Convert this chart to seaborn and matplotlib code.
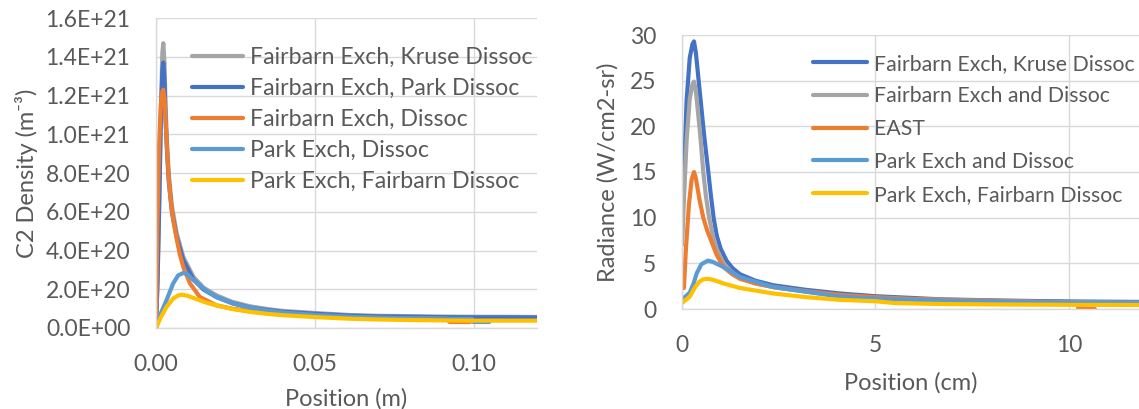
import numpy as np
import pandas as pd
import matplotlib
matplotlib.use("Agg")
import matplotlib.pyplot as plt
import matplotlib.ticker as mticker
import seaborn as sns

# ---------------- data: left panel (C2 density, m^-3 vs position, m) ----------------
left_labels = ["Fairbarn Exch, Kruse Dissoc", "Fairbarn Exch, Park Dissoc",
               "Fairbarn Exch, Dissoc", "Park Exch, Dissoc", "Park Exch, Fairbarn Dissoc"]
left_colors = ["#A5A5A5", "#4472C4", "#ED7D31", "#5B9BD5", "#FFC000"]

x_kruse = [0, 0.0005, 0.001, 0.0015, 0.002, 0.0023, 0.0027, 0.003, 0.0035, 0.004, 0.005, 0.0065,
           0.0086, 0.0118, 0.015, 0.019, 0.024, 0.0296, 0.035, 0.040, 0.0505, 0.061, 0.07, 0.08,
           0.09, 0.10, 0.11, 0.12]
y_kruse = [0, 2.5e20, 6.5e20, 1.1e21, 1.42e21, 1.47e21, 1.36e21, 1.15e21, 9.5e20, 8.0e20, 6.3e20,
           4.9e20, 3.67e20, 2.64e20, 2.08e20, 1.69e20, 1.35e20, 1.12e20, 9.8e19, 8.8e19, 7.7e19,
           6.7e19, 6.3e19, 6.1e19, 5.9e19, 5.8e19, 5.8e19, 5.7e19]

x_park = [0, 0.0005, 0.001, 0.0015, 0.002, 0.0023, 0.0027, 0.003, 0.0035, 0.004, 0.005, 0.0065,
          0.0086, 0.0118, 0.015, 0.019, 0.024, 0.0296, 0.035, 0.040, 0.0505, 0.061, 0.07, 0.08,
          0.09, 0.10, 0.11, 0.12]
y_park = [0, 2.5e20, 6.2e20, 1.05e21, 1.33e21, 1.37e21, 1.27e21, 1.08e21, 9.0e20, 7.6e20, 6.0e20,
          4.7e20, 3.5e20, 2.5e20, 1.98e20, 1.6e20, 1.28e20, 1.06e20, 9.3e19, 8.4e19, 7.3e19,
          6.4e19, 6.0e19, 5.8e19, 5.6e19, 5.5e19, 5.5e19, 5.4e19]

x_fdis = [0, 0.0004, 0.001, 0.0015, 0.002, 0.0023, 0.0027, 0.003, 0.0035, 0.004, 0.0045, 0.005,
          0.0055, 0.0065, 0.0075, 0.0086, 0.0107, 0.0138, 0.019, 0.024, 0.0296, 0.035, 0.040,
          0.0505, 0.061, 0.07, 0.08, 0.0915, 0.0925, 0.099]
y_fdis = [0, 5.0e20, 9.5e20, 1.15e21, 1.22e21, 1.23e21, 1.18e21, 1.08e21, 9.2e20, 7.8e20, 6.8e20,
          6.1e20, 5.5e20, 4.6e20, 3.8e20, 3.15e20, 2.3e20, 1.6e20, 1.17e20, 1.0e20, 8.8e19, 7.9e19,
          7.2e19, 6.3e19, 5.6e19, 5.2e19, 5.0e19, 4.8e19, 3.1e19, 3.1e19]

x_pexd = [0, 0.0015, 0.0033, 0.0054, 0.007, 0.0086, 0.010, 0.0118, 0.0138, 0.016, 0.019, 0.0243,
          0.0296, 0.035, 0.040, 0.0505, 0.061, 0.07, 0.08, 0.09, 0.0995, 0.100, 0.105]
y_pexd = [0, 7.5e19, 1.43e20, 2.3e20, 2.72e20, 2.84e20, 2.76e20, 2.47e20, 2.2e20, 1.9e20, 1.6e20,
          1.26e20, 1.05e20, 9.0e19, 8.0e19, 6.7e19, 5.8e19, 5.3e19, 5.0e19, 4.8e19, 4.7e19,
          3.1e19, 3.1e19]

x_pfd = [0, 0.0015, 0.0033, 0.0054, 0.007, 0.0081, 0.010, 0.0118, 0.0138, 0.016, 0.019, 0.024,
         0.0296, 0.035, 0.040, 0.0505, 0.061, 0.07, 0.08, 0.09, 0.10, 0.11, 0.12]
y_pfd = [0, 5.5e19, 1.08e20, 1.52e20, 1.68e20, 1.72e20, 1.66e20, 1.55e20, 1.43e20, 1.3e20, 1.17e20,
         9.8e19, 8.3e19, 7.3e19, 6.6e19, 5.6e19, 4.8e19, 4.4e19, 4.1e19, 3.9e19, 3.8e19, 3.8e19,
         3.8e19]

left_x = [x_kruse, x_park, x_fdis, x_pexd, x_pfd]
left_y = [y_kruse, y_park, y_fdis, y_pexd, y_pfd]
left_yticks = [0, 2e20, 4e20, 6e20, 8e20, 1e21, 1.2e21, 1.4e21, 1.6e21]
left_xticks = [0.0, 0.05, 0.10]

# ---------------- data: right panel (radiance, W/cm2-sr vs position, cm) ----------------
right_labels = ["Fairbarn Exch, Kruse Dissoc", "Fairbarn Exch and Dissoc", "EAST",
                "Park Exch and Dissoc", "Park Exch, Fairbarn Dissoc"]
right_colors = ["#4472C4", "#A5A5A5", "#ED7D31", "#5B9BD5", "#FFC000"]

xr_kruse = [0, 0.05, 0.12, 0.2, 0.27, 0.31, 0.36, 0.48, 0.57, 0.68, 0.75, 0.82, 0.9, 1.0, 1.15,
            1.3, 1.5, 1.9, 2.36, 3.2, 4.08, 5.0, 6.0, 6.67, 8.0, 9.0, 10.0, 11.0, 11.8]
yr_kruse = [8.0, 15.0, 22.9, 27.5, 29.0, 29.3, 28.0, 22.9, 19.1, 15.0, 12.3, 9.9, 8.0, 6.6, 5.3,
            4.5, 3.8, 3.1, 2.6, 2.1, 1.7, 1.4, 1.2, 1.06, 0.95, 0.88, 0.83, 0.8, 0.78]

xr_fair = [0, 0.05, 0.12, 0.2, 0.27, 0.31, 0.36, 0.47, 0.55, 0.62, 0.7, 0.8, 0.9, 1.07, 1.3, 1.5,
           1.9, 2.36, 3.2, 4.08, 5.0, 6.0, 7.0, 8.0, 9.0, 10.0, 11.0, 11.8]
yr_fair = [7.0, 12.0, 18.5, 23.0, 24.6, 24.9, 23.8, 19.1, 15.0, 12.3, 10.0, 8.0, 6.5, 5.0, 4.0,
           3.4, 2.8, 2.4, 1.9, 1.45, 1.2, 1.05, 0.95, 0.88, 0.8, 0.75, 0.72, 0.7]

xr_east = [0.05, 0.1, 0.18, 0.25, 0.31, 0.36, 0.45, 0.55, 0.65, 0.77, 0.9, 1.07, 1.3, 1.5, 1.9,
           2.36, 3.2, 4.08, 5.0, 6.0, 7.0, 8.0, 9.0, 10.0, 10.2, 10.25, 10.67]
yr_east = [2.3, 6.5, 11.5, 14.2, 15.0, 14.3, 12.0, 10.0, 8.6, 7.3, 5.9, 4.6, 3.8, 3.3, 2.8,
           2.4, 1.95, 1.55, 1.3, 1.1, 1.0, 0.9, 0.8, 0.72, 0.68, 0.05, 0.0]

xr_park = [0, 0.1, 0.2, 0.3, 0.38, 0.5, 0.67, 0.8, 1.07, 1.5, 2.36, 3.2, 4.08, 5.0, 6.0, 7.0, 8.0,
           9.0, 10.0, 11.0, 11.8]
yr_park = [1.06, 1.4, 1.8, 2.8, 3.9, 4.9, 5.3, 5.15, 4.6, 3.5, 2.4, 1.9, 1.35, 1.15, 1.0, 0.9,
           0.82, 0.75, 0.7, 0.66, 0.63]

xr_pfd = [0, 0.1, 0.2, 0.34, 0.45, 0.55, 0.67, 0.8, 1.07, 1.5, 2.36, 3.2, 4.08, 5.0, 5.5, 6.67,
          8.0, 9.0, 10.0, 11.0, 11.8]
yr_pfd = [0.65, 1.0, 1.35, 2.4, 3.0, 3.25, 3.3, 3.2, 2.8, 2.3, 1.7, 1.3, 1.0, 0.85, 0.65, 0.55,
          0.5, 0.48, 0.46, 0.45, 0.44]

right_x = [xr_kruse, xr_fair, xr_east, xr_park, xr_pfd]
right_y = [yr_kruse, yr_fair, yr_east, yr_park, yr_pfd]
right_yticks = [0, 5, 10, 15, 20, 25, 30]
right_xticks = [0, 5, 10]


def long_frame(labels, xs, ys):
    parts = [pd.DataFrame({"x": x, "y": y, "series": lab}) for lab, x, y in zip(labels, xs, ys)]
    return pd.concat(parts, ignore_index=True)


sns.set_theme(style="white")
FONT = ["Lato", "DejaVu Sans"]
plt.rcParams["font.family"] = FONT
TXT = "#595959"
GRID = "#D9D9D9"
LW = 3.0

fig = plt.figure(figsize=(11.39, 4.09), dpi=100)
axL = fig.add_axes([156 / 1139, 1 - 328 / 409, (537 - 156) / 1139, (328 - 18) / 409])
axR = fig.add_axes([682 / 1139, 1 - 309 / 409, (1139 - 682) / 1139, (309 - 35) / 409])


def style(ax, xticks, yticks, xlim, ylim, fmt_y=None, fmt_x=None):
    ax.set_xlim(*xlim)
    ax.set_ylim(*ylim)
    ax.set_xticks(xticks)
    ax.set_yticks(yticks)
    if fmt_y:
        ax.yaxis.set_major_formatter(mticker.FuncFormatter(fmt_y))
    if fmt_x:
        ax.xaxis.set_major_formatter(mticker.FuncFormatter(fmt_x))
    ax.grid(True, color=GRID, lw=1.0)
    ax.set_axisbelow(True)
    for s in ["top", "right"]:
        ax.spines[s].set_visible(False)
    for s in ["left", "bottom"]:
        ax.spines[s].set_color(GRID)
        ax.spines[s].set_linewidth(1.0)
    ax.tick_params(axis="both", length=0, labelsize=16.5, colors=TXT)
    ax.tick_params(axis="y", pad=18.5)
    ax.tick_params(axis="x", pad=19)


dfL = long_frame(left_labels, left_x, left_y)
sns.lineplot(data=dfL, x="x", y="y", hue="series", hue_order=left_labels,
             palette=left_colors, estimator=None, sort=False, lw=LW, ax=axL, legend=True)
style(axL, left_xticks, left_yticks, (0, 0.12), (0, 1.6e21),
      fmt_y=lambda v, p: f"{v:.1E}", fmt_x=lambda v, p: f"{v:.2f}")
axL.set_xlabel("Position (m)", fontsize=17, color=TXT, labelpad=9)
axL.set_ylabel("C2 Density (m\u207b\u00b3)", fontsize=17, color=TXT)
axL.yaxis.set_label_coords(-0.31, 0.5)
h, l = axL.get_legend_handles_labels()
axL.legend(h, l, loc="upper left", bbox_to_anchor=(0.094, 0.907), frameon=False,
           fontsize=16.7, handlelength=2.2, handletextpad=0.3, labelspacing=0.43,
           borderpad=0, borderaxespad=0, labelcolor=TXT)

dfR = long_frame(right_labels, right_x, right_y)
sns.lineplot(data=dfR, x="x", y="y", hue="series", hue_order=right_labels,
             palette=right_colors, estimator=None, sort=False, lw=LW, ax=axR, legend=True)
style(axR, right_xticks, right_yticks, (0, 11.81), (0, 30))
axR.set_xlabel("Position (cm)", fontsize=17, color=TXT, labelpad=11)
axR.set_ylabel("Radiance (W/cm2-sr)", fontsize=17, color=TXT)
axR.yaxis.set_label_coords(-0.138, 0.5)
h, l = axR.get_legend_handles_labels()
axR.legend(h, l, loc="upper left", bbox_to_anchor=(0.287, 0.932), frameon=False,
           fontsize=15.3, handlelength=2.55, handletextpad=0.3, labelspacing=0.6,
           borderpad=0, borderaxespad=0, labelcolor=TXT)

fig.savefig("out.png", dpi=100)
